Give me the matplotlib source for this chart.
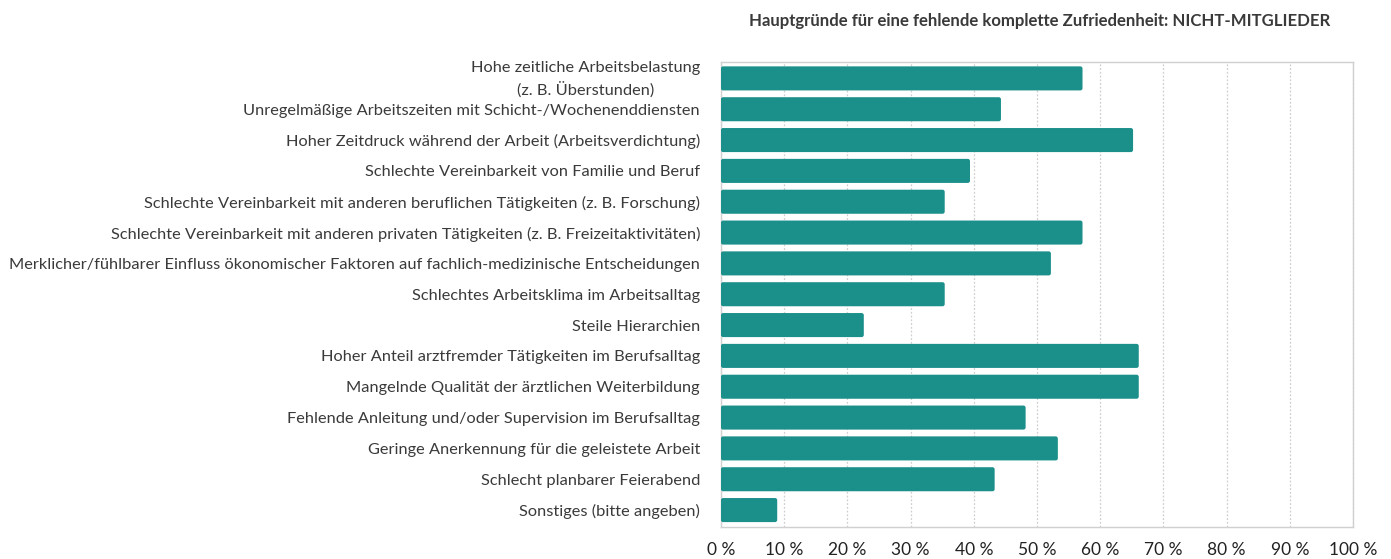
import numpy as np
import matplotlib.pyplot as plt
import matplotlib.transforms as mtransforms
from matplotlib.patches import FancyBboxPatch

plt.rcParams['font.family'] = ['Lato', 'DejaVu Sans']

# Antwortkategorien (von oben nach unten)
categories = [
    "Hohe zeitliche Arbeitsbelastung\n(z. B. Überstunden)",
    "Unregelmäßige Arbeitszeiten mit Schicht-/Wochenenddiensten",
    "Hoher Zeitdruck während der Arbeit (Arbeitsverdichtung)",
    "Schlechte Vereinbarkeit von Familie und Beruf",
    "Schlechte Vereinbarkeit mit anderen beruflichen Tätigkeiten (z. B. Forschung)",
    "Schlechte Vereinbarkeit mit anderen privaten Tätigkeiten (z. B. Freizeitaktivitäten)",
    "Merklicher/fühlbarer Einfluss ökonomischer Faktoren auf fachlich-medizinische Entscheidungen",
    "Schlechtes Arbeitsklima im Arbeitsalltag",
    "Steile Hierarchien",
    "Hoher Anteil arztfremder Tätigkeiten im Berufsalltag",
    "Mangelnde Qualität der ärztlichen Weiterbildung",
    "Fehlende Anleitung und/oder Supervision im Berufsalltag",
    "Geringe Anerkennung für die geleistete Arbeit",
    "Schlecht planbarer Feierabend",
    "Sonstiges (bitte angeben)",
]

# Anteile in Prozent
values = [57.2, 44.3, 65.2, 39.4, 35.4, 57.2, 52.2, 35.4, 22.6, 66.1, 66.1, 48.2, 53.3, 43.3, 8.9]

xticks = list(range(0, 101, 10))
xtick_labels = [f"{t} %" for t in xticks]

title = "Hauptgründe für eine fehlende komplette Zufriedenheit: NICHT-MITGLIEDER"

bar_color = "#1b8f8a"
text_color = "#3a3a3a"

fig = plt.figure(figsize=(13.91, 5.59), dpi=100)
ax = fig.add_axes([0.5183, 0.0572, 0.4544, 0.8318])

ax.set_xlim(0, 100)
ax.set_ylim(len(categories) - 0.45, -0.53)

# Balken mit leicht abgerundeten Ecken
bar_h = 0.78
y = np.arange(len(categories))
for yi, v in zip(y, values):
    box = FancyBboxPatch((0, yi - bar_h / 2), v, bar_h,
                         boxstyle="round,pad=0,rounding_size=0.35",
                         mutation_aspect=0.2,
                         facecolor=bar_color, edgecolor="none", zorder=3)
    ax.add_patch(box)

ax.set_xticks(xticks)
ax.set_xticklabels(xtick_labels, fontsize=12.5, color="#222222")
ax.set_yticks(y)
ax.set_yticklabels(categories, fontsize=11.8, color=text_color,
                   multialignment="center", linespacing=1.5)
ax.tick_params(axis="both", length=0)
ax.tick_params(axis="y", pad=15)
ax.tick_params(axis="x", pad=11)

# zweizeiliges Label etwas nach oben schieben
first = ax.get_yticklabels()[0]
first.set_transform(first.get_transform() +
                    mtransforms.ScaledTranslation(0, 3.5 / 100, fig.dpi_scale_trans))

ax.grid(axis="x", color="#cfcfcf", linestyle=(0, (1.5, 1.5)), linewidth=0.9, zorder=0)
for side in ["top", "right", "bottom", "left"]:
    ax.spines[side].set_color("#d0d0d0")
    ax.spines[side].set_linewidth(1.0)

fig.text(0.7475, 0.962, title, ha="center", va="center", fontsize=12.1,
         fontweight="bold", color=text_color)

fig.savefig("out.png", dpi=100, facecolor="white")
